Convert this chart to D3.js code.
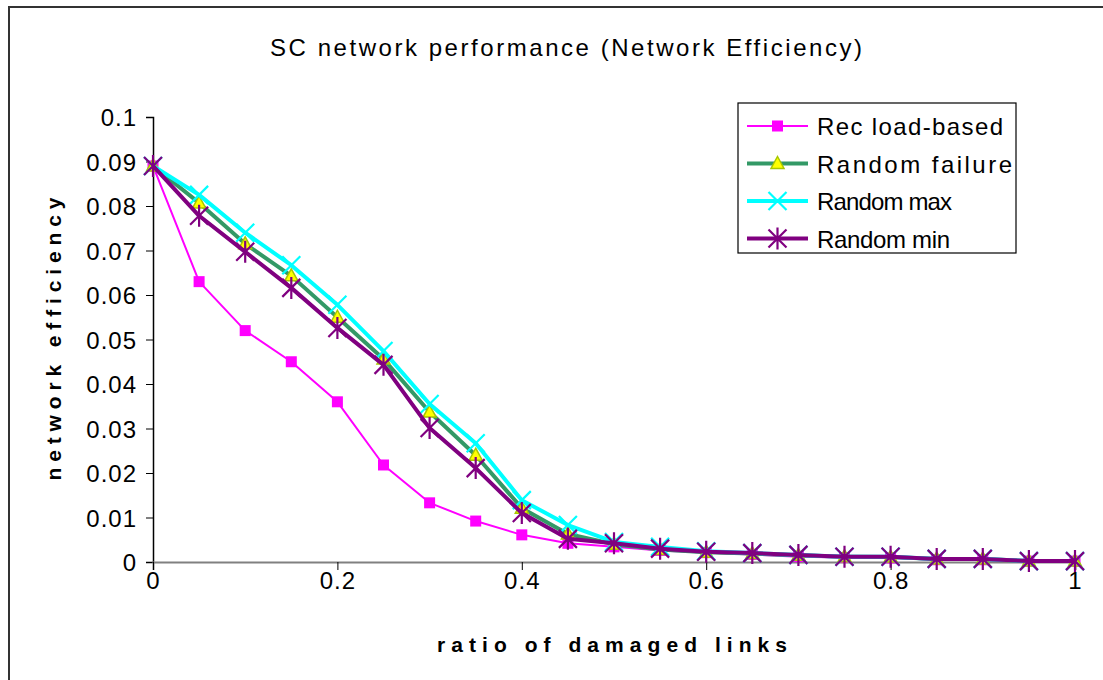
<!DOCTYPE html>
<html>
<head>
<meta charset="utf-8">
<script src="https://cdn.jsdelivr.net/npm/d3@7"></script>
<style>
  body { margin: 0; background: #fff; }
  text { font-family: "Liberation Sans", Arial, sans-serif; fill: #000; }
</style>
</head>
<body>
<div id="chart"></div>
<script>
// ratio of damaged links, one point every 0.05
const ratios = [0, 0.05, 0.1, 0.15, 0.2, 0.25, 0.3, 0.35, 0.4, 0.45, 0.5,
  0.55, 0.6, 0.65, 0.7, 0.75, 0.8, 0.85, 0.9, 0.95, 1];

const recLoadBased = [0.089, 0.063, 0.052, 0.045, 0.036, 0.0218, 0.0133, 0.0092, 0.0061, 0.0042, 0.0034,
  0.0026, 0.0021, 0.0017, 0.0012, 0.0010, 0.0009, 0.0005, 0.0005, 0.0002, 0.0002];
const randomFailure = [0.089, 0.0807, 0.0715, 0.0643, 0.055, 0.0456, 0.0337, 0.024, 0.0121, 0.0063, 0.0040,
  0.0028, 0.0022, 0.0019, 0.0015, 0.0012, 0.0011, 0.0007, 0.0007, 0.0002, 0.0002];
const randomMax = [0.089, 0.0825, 0.074, 0.0667, 0.0578, 0.0474, 0.0355, 0.0267, 0.0139, 0.0083, 0.0045,
  0.0034, 0.0024, 0.0020, 0.0016, 0.0012, 0.0012, 0.0007, 0.0007, 0.0002, 0.0002];
const randomMin = [0.089, 0.0778, 0.0697, 0.0616, 0.0526, 0.0443, 0.0301, 0.0211, 0.011, 0.0052, 0.0042,
  0.0030, 0.0023, 0.0020, 0.0016, 0.0012, 0.0012, 0.0007, 0.0007, 0.0002, 0.0002];

const yTicks = [0, 0.01, 0.02, 0.03, 0.04, 0.05, 0.06, 0.07, 0.08, 0.09, 0.1];
const xTicks = [0, 0.2, 0.4, 0.6, 0.8, 1];

const series = [
  { name: "Rec load-based", values: recLoadBased, color: "#ff00ff", width: 2, marker: "square" },
  { name: "Random failure", values: randomFailure, color: "#339966", width: 4, marker: "triangle" },
  { name: "Random max", values: randomMax, color: "#00ffff", width: 4, marker: "x" },
  { name: "Random min", values: randomMin, color: "#800080", width: 4, marker: "star" }
];

const W = 1103, H = 680;
const margin = { top: 117, left: 153, right: 28, bottom: 118 };
const width = W - margin.left - margin.right,
      height = H - margin.top - margin.bottom;

const svg = d3.select("#chart").append("svg")
  .attr("width", W).attr("height", H);

// outer chart frame (runs off the right and bottom edges)
svg.append("rect")
  .attr("x", 9).attr("y", 7)
  .attr("width", W + 20).attr("height", H + 20)
  .attr("fill", "#fff")
  .attr("stroke", "#333").attr("stroke-width", 2);

svg.append("text")
  .attr("x", 566).attr("y", 56)
  .attr("text-anchor", "middle")
  .attr("font-size", 24)
  .attr("textLength", 592).attr("lengthAdjust", "spacing")
  .text("SC network performance (Network Efficiency)");

const g = svg.append("g")
  .attr("transform", "translate(" + margin.left + "," + margin.top + ")");

const x = d3.scaleLinear().domain([0, 1]).range([0, width]);
const y = d3.scaleLinear().domain([0, 0.1]).range([height, 0]);

// Y axis
const yAxis = g.append("g")
  .call(d3.axisLeft(y).tickValues(yTicks).tickSize(7).tickPadding(9)
    .tickFormat(d => d === 0 ? "0" : d3.format(".2~f")(d)));
yAxis.select(".domain").attr("stroke", "#000").attr("stroke-width", 1.5);
yAxis.selectAll("line").attr("stroke", "#000");
yAxis.selectAll("text")
  .attr("font-size", 24).attr("font-family", "Liberation Sans, Arial, sans-serif")
  .attr("letter-spacing", 1).attr("dy", "0.36em");

// X axis
const xAxis = g.append("g")
  .attr("transform", "translate(0," + height + ")")
  .call(d3.axisBottom(x).tickValues(xTicks).tickSize(8).tickPadding(2)
    .tickFormat(d3.format("~g")));
xAxis.select(".domain").attr("stroke", "#808080").attr("stroke-width", 2);
xAxis.selectAll("line").attr("stroke", "#000");
xAxis.selectAll("text")
  .attr("font-size", 24).attr("font-family", "Liberation Sans, Arial, sans-serif")
  .attr("letter-spacing", 1);

// axis titles
svg.append("text")
  .attr("x", 612).attr("y", 652)
  .attr("text-anchor", "middle")
  .attr("font-size", 21).attr("font-weight", "bold")
  .attr("textLength", 350).attr("lengthAdjust", "spacing")
  .text("ratio of damaged links");

svg.append("text")
  .attr("transform", "translate(61,339) rotate(-90)")
  .attr("text-anchor", "middle")
  .attr("font-size", 21).attr("font-weight", "bold")
  .attr("textLength", 283).attr("lengthAdjust", "spacing")
  .text("network efficiency");

const line = d3.line()
  .x((d, i) => x(ratios[i]))
  .y(d => y(d));

// marker drawing helper
function drawMarker(sel, s) {
  if (s.marker === "square") {
    sel.append("rect").attr("x", -5.5).attr("y", -5.5).attr("width", 11).attr("height", 11)
      .attr("fill", s.color);
  } else if (s.marker === "triangle") {
    sel.append("path").attr("d", "M0,-7L6.5,5L-6.5,5Z")
      .attr("fill", "#ffff00").attr("stroke", "#a8c800").attr("stroke-width", 1.5);
  } else if (s.marker === "x") {
    sel.append("path").attr("d", "M-9,-9L9,9M-9,9L9,-9")
      .attr("stroke", s.color).attr("stroke-width", 2.2);
  } else if (s.marker === "star") {
    sel.append("path").attr("d", "M-9,-9L9,9M-9,9L9,-9M0,-11L0,11")
      .attr("stroke", s.color).attr("stroke-width", 2.2);
  }
}

series.forEach(s => {
  const sg = g.append("g");
  sg.append("path")
    .datum(s.values)
    .attr("fill", "none")
    .attr("stroke", s.color)
    .attr("stroke-width", s.width)
    .attr("stroke-linejoin", "round")
    .attr("d", line);

  sg.selectAll(".pt")
    .data(s.values)
    .enter().append("g")
    .attr("class", "pt")
    .attr("transform", (d, i) => "translate(" + x(ratios[i]) + "," + y(d) + ")")
    .each(function () { drawMarker(d3.select(this), s); });
});

// legend
const legend = svg.append("g").attr("transform", "translate(738,103)");
legend.append("rect")
  .attr("width", 278).attr("height", 150)
  .attr("fill", "#fff").attr("stroke", "#000").attr("stroke-width", 1.2);

const legendLengths = [186, 195, 135, 133];
series.forEach((s, i) => {
  const row = legend.append("g").attr("transform", "translate(0," + (23 + i * 37.5) + ")");
  row.append("line").attr("x1", 9).attr("x2", 70)
    .attr("stroke", s.color).attr("stroke-width", s.width);
  drawMarker(row.append("g").attr("transform", "translate(39.5,0)"), s);
  row.append("text")
    .attr("x", 79).attr("y", 9)
    .attr("font-size", 24)
    .attr("textLength", legendLengths[i]).attr("lengthAdjust", "spacing")
    .text(s.name);
});
</script>
</body>
</html>
